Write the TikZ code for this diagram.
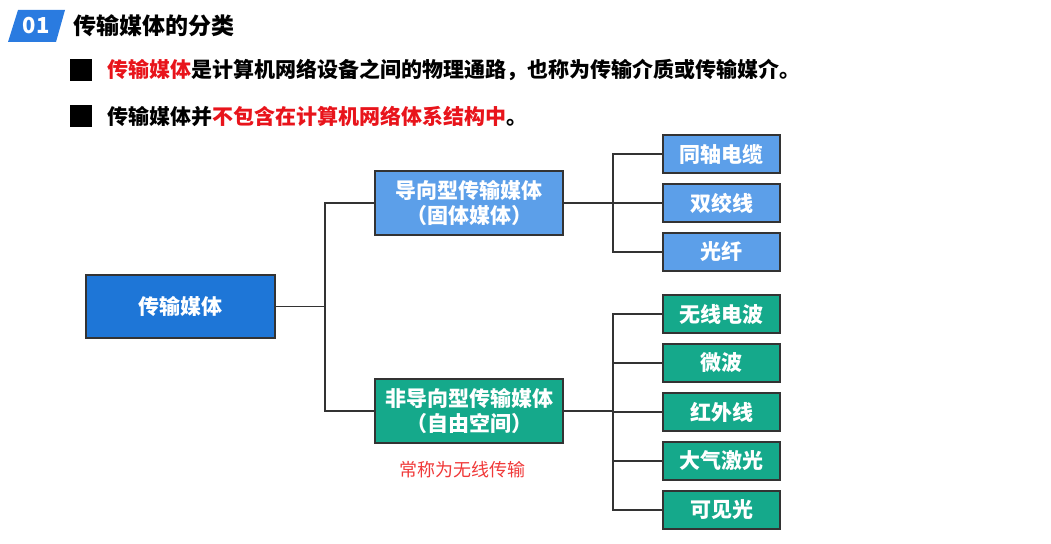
\documentclass[tikz,border=0pt]{standalone}
\usepackage{fontspec}
\setmainfont{Noto Sans CJK SC}
\usetikzlibrary{positioning}

\definecolor{rootblue}{HTML}{1E76D7}
\definecolor{lightblue}{HTML}{5C9FE9}
\definecolor{tealgreen}{HTML}{15A98B}
\definecolor{badgeblue}{HTML}{2A7BE0}
\definecolor{hired}{HTML}{E8141B}
\definecolor{notered}{HTML}{F03A3A}

\begin{document}
\begin{tikzpicture}[x=1pt, y=-1pt, node distance=49pt,
		box/.style={
			rectangle,
			draw=black!80,
			line width=1.2pt,
			text=white,
			font=\bfseries\fontsize{21}{25}\selectfont,
			inner sep=0pt,
			align=center
		},
		rootbox/.style={box, fill=rootblue, minimum width=189pt, minimum height=63pt},
		midbox/.style={box, minimum width=188pt, minimum height=64pt},
		leaf/.style={box, minimum width=117pt, minimum height=38pt},
		wired/.style={fill=lightblue},
		wireless/.style={fill=tealgreen},
		bullet/.style={fill=black, minimum size=22pt, inner sep=0pt},
		link/.style={line width=1.3pt, black!80}]

		\useasboundingbox (0,0) rectangle (1051,543);

		% header
		\fill[badgeblue] (8,42) -- (18,10) -- (65,10) -- (56,42) -- cycle;
		\node[text=white, font=\bfseries\fontsize{22}{24}\selectfont] (num) at (36,26) {01};
		\node[anchor=west, font=\bfseries\fontsize{23}{26}\selectfont] (title) at (70,26) {传输媒体的分类};

		% two bullet lines
		\node[bullet] (sq1) at (81,70) {};
		\node[anchor=west, font=\bfseries\fontsize{21}{24}\selectfont] (line1) at (104,70)
			{\textcolor{hired}{传输媒体}是计算机网络设备之间的物理通路，也称为传输介质或传输媒介。};
		\node[bullet] (sq2) at (81,116) {};
		\node[anchor=west, font=\bfseries\fontsize{21}{24}\selectfont] (line2) at (104,116)
			{传输媒体并\textcolor{hired}{不包含在计算机网络体系结构中}。};

		% tree
		\node[rootbox] (media) at (180.5,306.5) {传输媒体};
		\node[midbox, wired] (guided) at (469,203) {导向型传输媒体\\（固体媒体）};
		\node[midbox, wireless] (unguided) at (469,411) {非导向型传输媒体\\（自由空间）};

		\node[leaf, wired] (coax) at (721.5,154) {同轴电缆};
		\node[leaf, wired, below of=coax] (twisted) {双绞线};
		\node[leaf, wired, below of=twisted] (fiber) {光纤};

		\node[leaf, wireless] (radio) at (721.5,314) {无线电波};
		\node[leaf, wireless, below of=radio] (micro) {微波};
		\node[leaf, wireless, below of=micro] (infra) {红外线};
		\node[leaf, wireless, below of=infra] (laser) {大气激光};
		\node[leaf, wireless, below of=laser] (light) {可见光};

		\node[text=notered, font=\fontsize{18}{20}\selectfont] (note) at (462,470) {常称为无线传输};

		\coordinate (fork) at (325,306.5);
		\coordinate (gfork) at (613,203);
		\coordinate (ufork) at (613,411);

		\draw[link] (media.east) -- (fork);
		\draw[link] (fork) |- (guided.west);
		\draw[link] (fork) |- (unguided.west);

		\draw[link] (guided.east) -- (gfork);
		\foreach \leafname in {coax, twisted, fiber}
			\draw[link] (gfork) |- (\leafname.west);

		\draw[link] (unguided.east) -- (ufork);
		\foreach \leafname in {radio, micro, infra, laser, light}
			\draw[link] (ufork) |- (\leafname.west);
	\end{tikzpicture}
\end{document}
